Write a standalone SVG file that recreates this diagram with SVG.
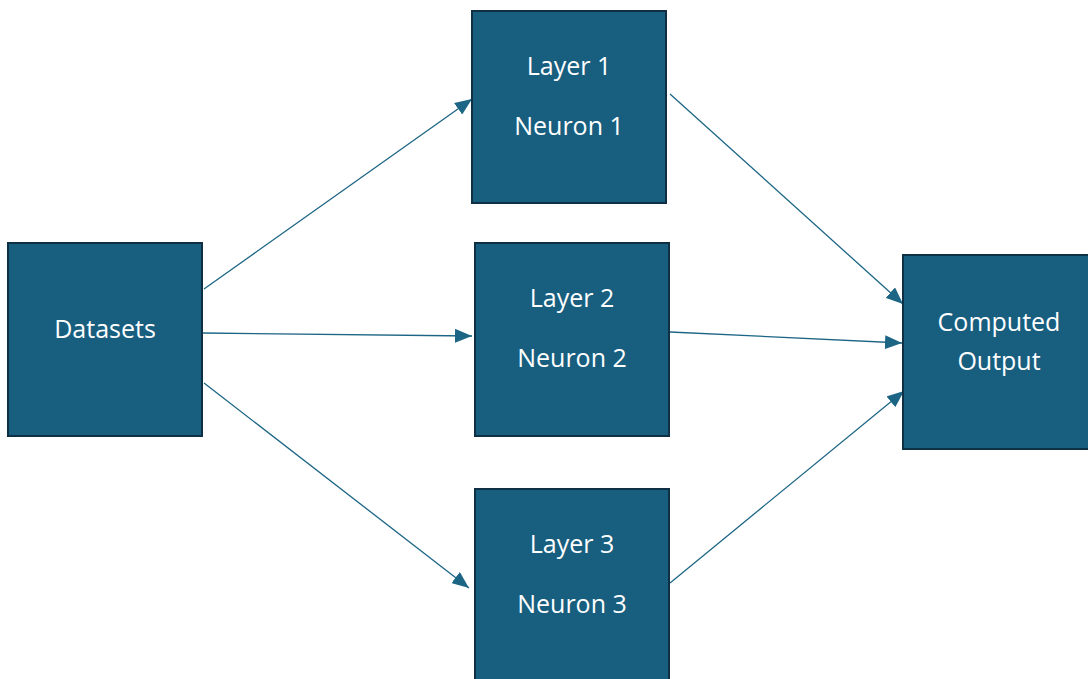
<svg xmlns="http://www.w3.org/2000/svg" width="1088" height="679" viewBox="0 0 1088 679">
<style>
.box{fill:#175E7F;stroke:#0E2F44;stroke-width:2}
.lbl{fill:#FFFFFF;font-family:"Open Sans","Liberation Sans",sans-serif;font-size:25px;text-anchor:middle}
.conn{stroke:#1C6584;stroke-width:1.3;fill:none;marker-end:url(#ah)}
</style>
<defs>
<marker id="ah" markerUnits="userSpaceOnUse" markerWidth="18" markerHeight="14" refX="17" refY="7" orient="auto">
<path d="M0,0 L17,7 L0,14 Z" fill="#1C6584"/>
</marker>
</defs>
<rect width="1088" height="679" fill="#FFFFFF"/>
<g id="connectors">
<line class="conn" x1="204" y1="289" x2="472" y2="99"/>
<line class="conn" x1="203" y1="333" x2="472" y2="336"/>
<line class="conn" x1="204" y1="383" x2="469" y2="588"/>
<line class="conn" x1="670" y1="94" x2="903" y2="304"/>
<line class="conn" x1="670" y1="332" x2="902" y2="343"/>
<line class="conn" x1="670" y1="583" x2="904" y2="391"/>
</g>
<g id="datasets">
<rect class="box" x="8" y="243" width="194" height="193"/>
<text class="lbl" x="105" y="338">Datasets</text>
</g>
<g id="layer1">
<rect class="box" x="472" y="11" width="194" height="192"/>
<text class="lbl" x="569" y="75">Layer 1</text>
<text class="lbl" x="569" y="135">Neuron 1</text>
</g>
<g id="layer2">
<rect class="box" x="475" y="243" width="194" height="193"/>
<text class="lbl" x="572" y="307">Layer 2</text>
<text class="lbl" x="572" y="367">Neuron 2</text>
</g>
<g id="layer3">
<rect class="box" x="475" y="489" width="194" height="200"/>
<text class="lbl" x="572" y="553">Layer 3</text>
<text class="lbl" x="572" y="613">Neuron 3</text>
</g>
<g id="output">
<rect class="box" x="903" y="255" width="194" height="194"/>
<text class="lbl" x="999" y="331">Computed</text>
<text class="lbl" x="999" y="370">Output</text>
</g>
</svg>
